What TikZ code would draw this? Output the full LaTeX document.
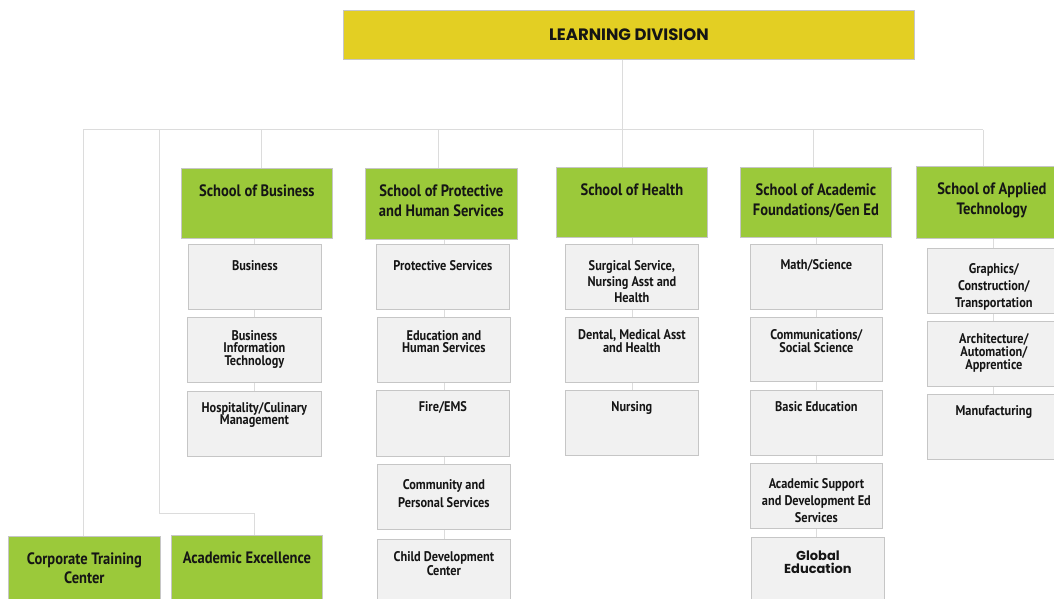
\documentclass[tikz,border=0pt]{standalone}
\usepackage{fontspec}
\setmainfont{PT Sans}[FakeStretch=0.88]
\newfontfamily\titlefont{Poppins}
\usetikzlibrary{backgrounds}
\definecolor{ldyellow}{HTML}{E3CF23}
\definecolor{ldgreen}{HTML}{9BC93A}
\definecolor{ldfill}{HTML}{F1F1F1}
\definecolor{ldborder}{HTML}{C6C6C6}
\definecolor{ldline}{HTML}{DCDCDC}
\definecolor{ldtext}{HTML}{151515}
\newcommand\tbx[5]{\begin{minipage}[t][#2][t]{#1}\centering\lineskiplimit=-100pt\vspace*{\dimexpr#3pt-14pt\relax}\baselineskip=#4pt\rule{0pt}{15pt}#5\par\end{minipage}}
% name, style, x1, y1, x2, y2, baseline offset, line spacing, text
\newcommand\bx[9]{\node[#2, anchor=north west] (#1) at (#3,#4)
  {\tbx{\the\numexpr#5-#3\relax pt}{\the\numexpr#6-#4\relax pt}{#7}{#8}{#9}};}
\tikzset{
  schoolbox/.style={draw=ldborder, line width=0.8pt, fill=ldgreen, inner sep=0pt, text=ldtext,
    font=\bfseries\fontsize{16.5}{20}\selectfont},
  subbox/.style={draw=ldborder, line width=0.8pt, fill=ldfill, inner sep=0pt, text=ldtext,
    font=\bfseries\fontsize{14}{13}\selectfont},
  conn/.style={draw=ldline, line width=1pt},
}
\begin{document}
\begin{tikzpicture}[x=1pt,y=-1pt]
\useasboundingbox (0,0) rectangle (1054,599);
\clip (0,0) rectangle (1054,599);
% title
\node[draw=ldborder, line width=0.8pt, fill=ldyellow, text=ldtext, inner sep=0pt,
  minimum width=571pt, minimum height=49pt, anchor=north west,
  font=\titlefont\bfseries\fontsize{16.5}{18}\selectfont] (title) at (343,10) {LEARNING DIVISION};
% schools
\bx{sbus}{schoolbox}{181}{168}{332}{238}{27}{20}{School of Business}
\bx{sprot}{schoolbox}{365}{168}{517}{239}{27}{20}{School of Protective\\and Human Services}
\bx{shea}{schoolbox}{556}{167}{707}{237}{27}{20}{School of Health}
\bx{saca}{schoolbox}{740}{167}{891}{237}{27}{20}{School of Academic\\Foundations/Gen Ed}
\bx{sapp}{schoolbox}{916}{166}{1067}{238}{27}{20}{School of Applied\\Technology}
\bx{corp}{schoolbox}{8}{536}{160}{612}{27}{19}{Corporate Training\\Center}
\bx{acex}{schoolbox}{171}{535}{322}{612}{27}{19}{Academic Excellence}
% business
\bx{bus1}{subbox}{188}{244}{321}{309}{25}{13}{Business}
\bx{bus2}{subbox}{187}{317}{321}{382}{22}{12.5}{Business\\Information\\Technology}
\bx{bus3}{subbox}{187}{391}{321}{456}{20}{12}{Hospitality/Culinary\\Management}
% protective
\bx{pro1}{subbox}{376}{244}{509}{309}{25}{13}{Protective Services}
\bx{pro2}{subbox}{377}{317}{510}{382}{22}{12}{Education and\\Human Services}
\bx{pro3}{subbox}{376}{390}{509}{456}{20}{13}{Fire/EMS}
\bx{pro4}{subbox}{377}{464}{510}{529}{24}{18}{Community and\\Personal Services}
\bx{pro5}{subbox}{377}{539}{510}{610}{21}{14}{Child Development\\Center}
% health
\bx{hea1}{subbox}{565}{244}{698}{309}{25}{16}{Surgical Service,\\Nursing Asst and\\Health}
\bx{hea2}{subbox}{565}{317}{698}{382}{21}{13}{Dental, Medical Asst\\and Health}
\bx{hea3}{subbox}{565}{390}{698}{455}{20}{13}{Nursing}
% academic
\bx{aca1}{subbox}{750}{244}{882}{309}{24}{13}{Math/Science}
\bx{aca2}{subbox}{750}{317}{882}{381}{21}{13}{Communications/\\Social Science}
\bx{aca3}{subbox}{750}{390}{882}{455}{20}{13}{Basic Education}
\bx{aca4}{subbox}{750}{463}{882}{528}{24}{17}{Academic Support\\and Development Ed\\Services}
\bx{aca5}{subbox}{751}{537}{884}{610}{22}{13}{{\titlefont\bfseries\fontsize{13}{13}\selectfont Global\\Education}}
% applied
\bx{app1}{subbox}{927}{248}{1060}{313}{24}{17}{Graphics/\\Construction/\\Transportation}
\bx{app2}{subbox}{927}{321}{1060}{386}{21}{13}{Architecture/\\Automation/\\Apprentice}
\bx{app3}{subbox}{927}{394}{1060}{459}{20}{13}{Manufacturing}
% junctions
\coordinate (jA) at (83,130);
\coordinate (jB) at (159,130);
\coordinate (jC) at (261,130);
\coordinate (jD) at (438,130);
\coordinate (jE) at (622,130);
\coordinate (jF) at (813,130);
\coordinate (jG) at (983,130);
\coordinate (kB) at (159,513);
\coordinate (kC) at (254,513);
\coordinate (cBus) at (254,0);
\coordinate (cPro) at (444,0);
\coordinate (cHea) at (632,0);
\coordinate (cAca) at (816,0);
\coordinate (cApp) at (993,0);
\begin{scope}[on background layer]
\draw[conn] (title.south -| jE) -- (jE);
\draw[conn] (jA) -- (jG);
\draw[conn] (jA) -- (jA |- corp.north);
\draw[conn] (jB) -- (kB) -- (kC) -- (kC |- acex.north);
\draw[conn] (jC) -- (jC |- sbus.north);
\draw[conn] (jD) -- (jD |- sprot.north);
\draw[conn] (jE) -- (jE |- shea.north);
\draw[conn] (jF) -- (jF |- saca.north);
\draw[conn] (jG) -- (jG |- sapp.north);
\draw[conn] (sbus.south -| cBus) -- (bus3.north -| cBus);
\draw[conn] (sprot.south -| cPro) -- (pro5.north -| cPro);
\draw[conn] (shea.south -| cHea) -- (hea3.north -| cHea);
\draw[conn] (saca.south -| cAca) -- (aca5.north -| cAca);
\draw[conn] (sapp.south -| cApp) -- (app3.north -| cApp);
\end{scope}
\end{tikzpicture}
\end{document}
